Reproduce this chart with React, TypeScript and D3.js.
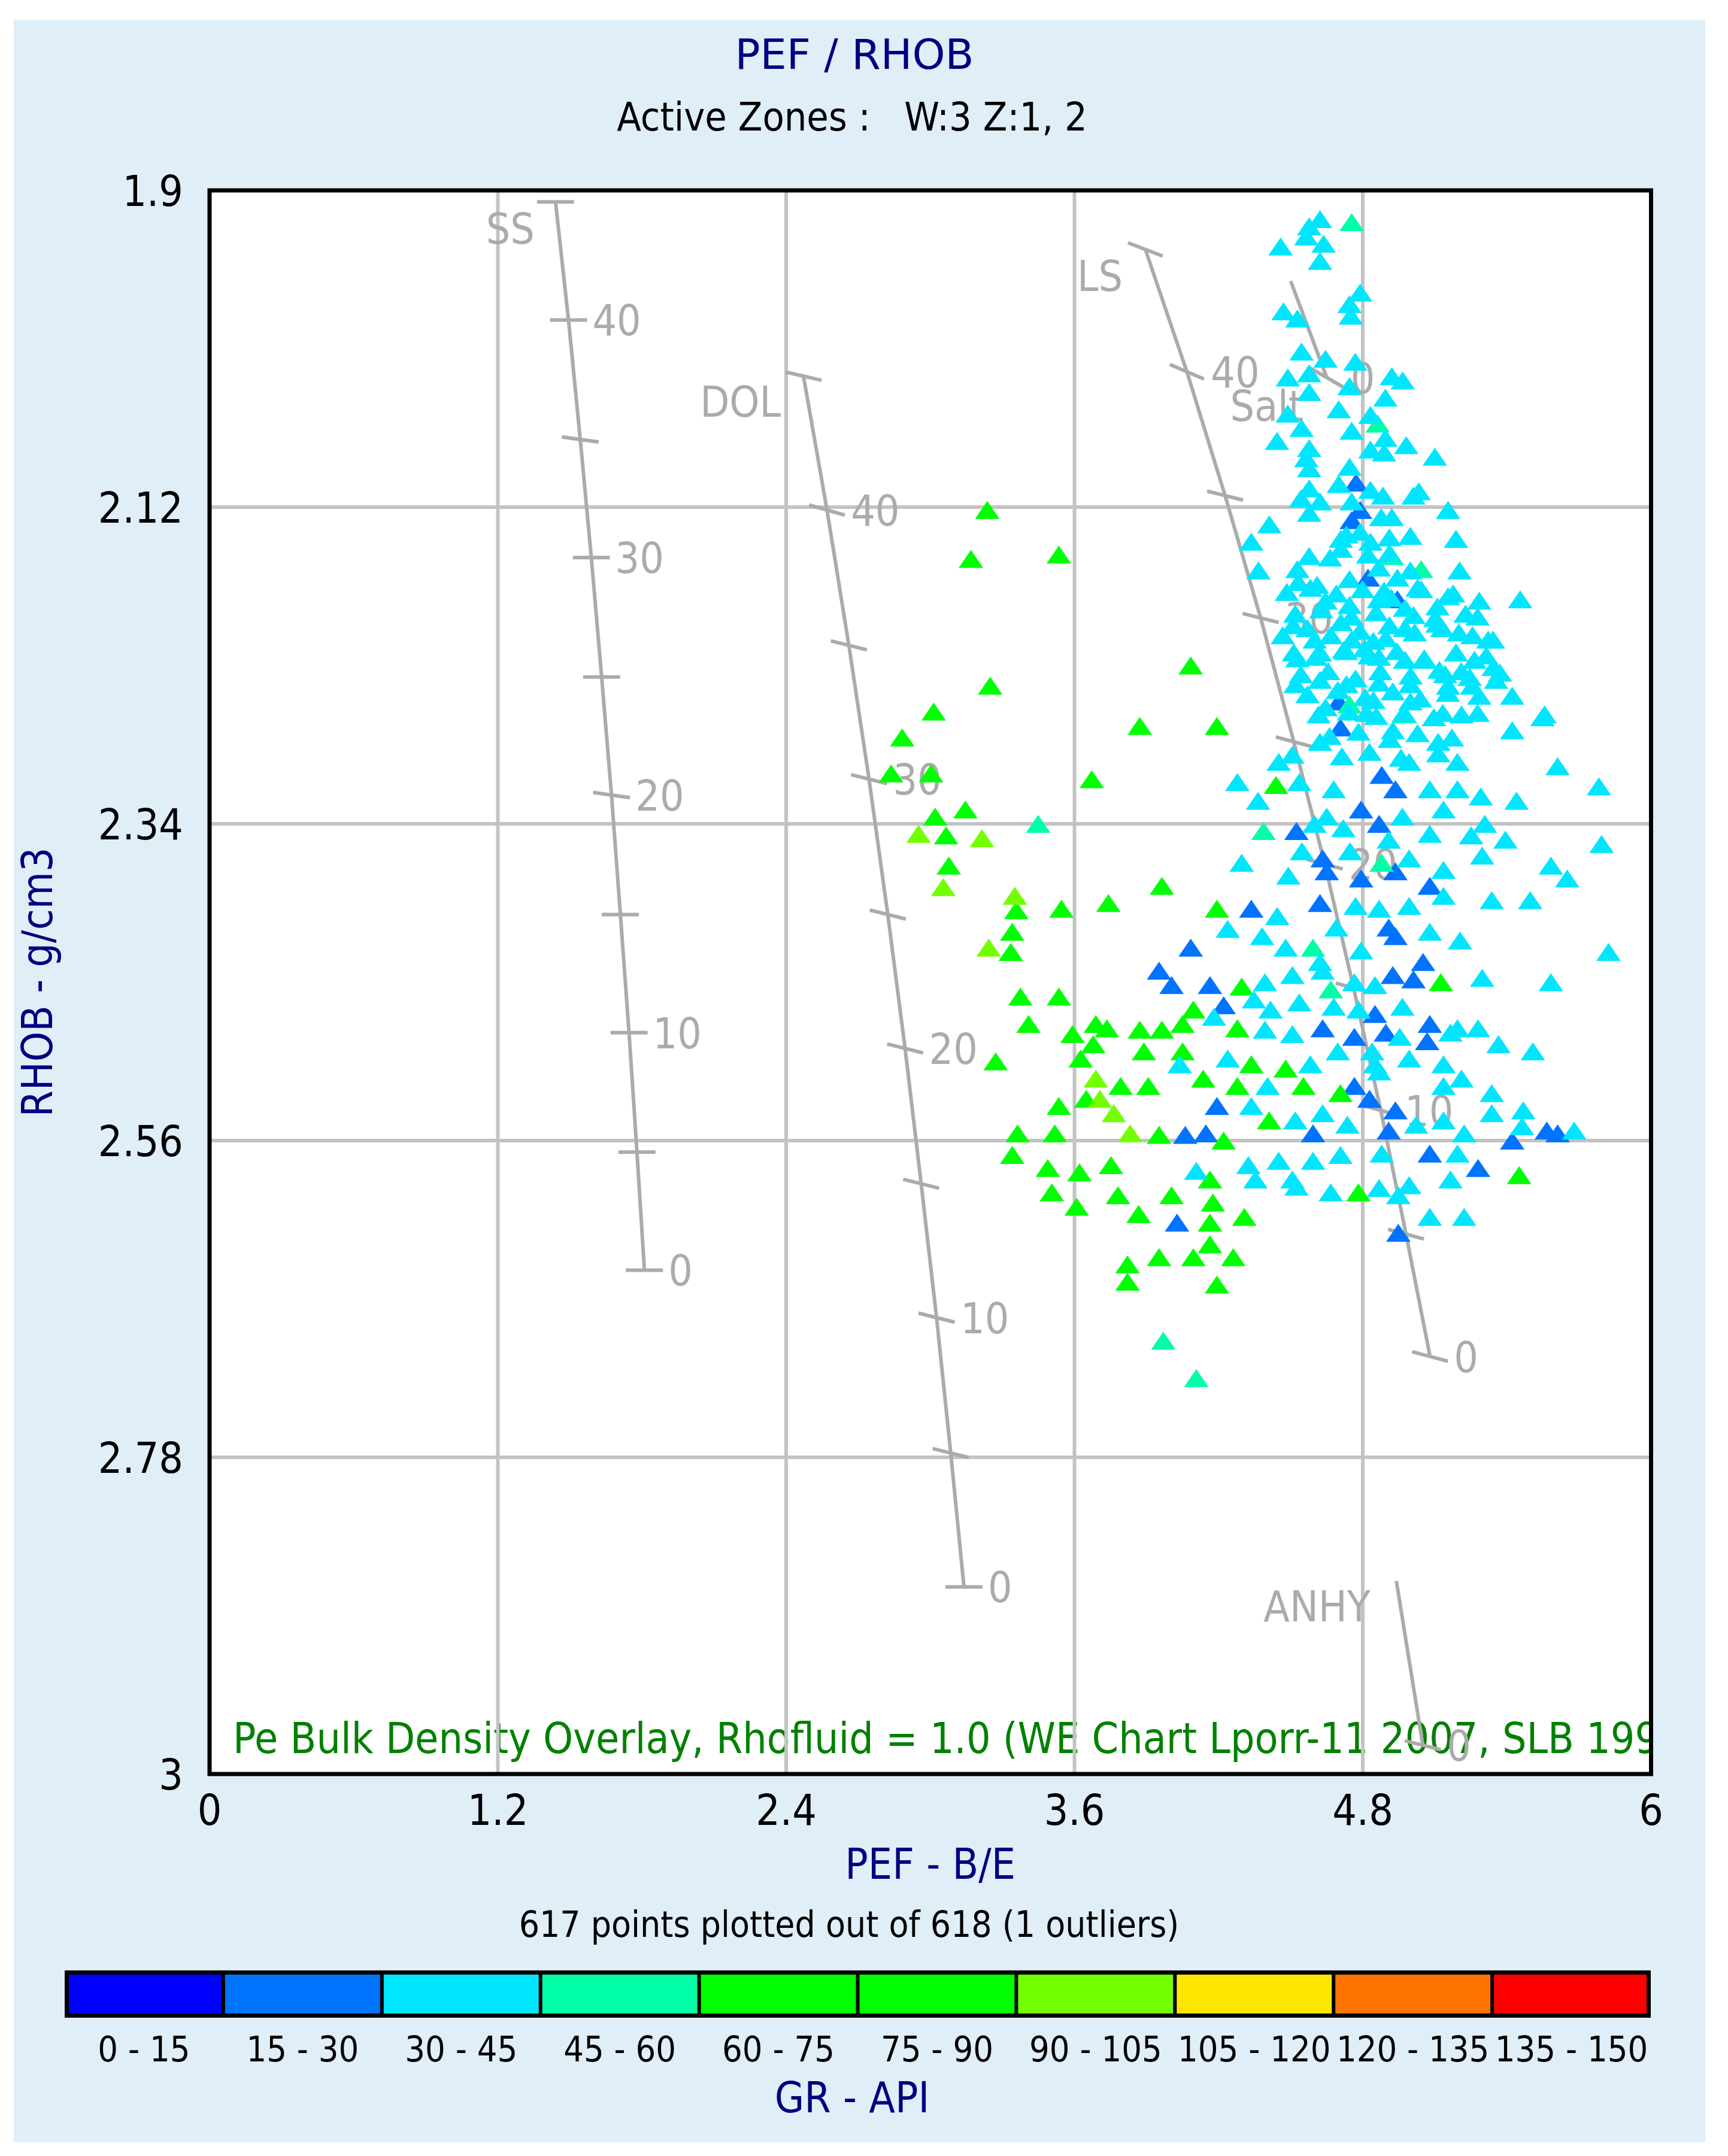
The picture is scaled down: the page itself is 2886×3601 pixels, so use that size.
import React from "react";
import * as d3 from "d3";

// ---------- DATA ----------
const X_TICKS = [0, 1.2, 2.4, 3.6, 4.8, 6];
const Y_TICKS = [1.9, 2.12, 2.34, 2.56, 2.78, 3];
const X_TICK_LABELS = ["0", "1.2", "2.4", "3.6", "4.8", "6"];
const Y_TICK_LABELS = ["1.9", "2.12", "2.34", "2.56", "2.78", "3"];

const GR_LABELS = ["0 - 15", "15 - 30", "30 - 45", "45 - 60", "60 - 75", "75 - 90", "90 - 105", "105 - 120", "120 - 135", "135 - 150"];
const GR_COLORS = ["#0000FF", "#0073FF", "#00E6FF", "#00FFA6", "#00FF00", "#00FF00", "#73FF00", "#FFE600", "#FF7300", "#FF0000"];

// points [PEF, RHOB] grouped by GR class
const PTS_GR_15_30: [number, number][] = [
  [4.772, 2.103], [4.789, 2.122], [4.754, 2.129], [4.822, 2.169], [4.944, 2.184], [4.700, 2.255],
  [4.707, 2.273], [4.879, 2.306], [4.936, 2.316], [4.793, 2.330], [4.524, 2.345], [4.868, 2.340], [4.633, 2.364],
  [4.650, 2.373], [4.793, 2.378], [4.936, 2.373], [5.079, 2.383], [4.622, 2.395], [4.336, 2.399], [4.908, 2.412],
  [4.936, 2.418], [4.084, 2.426], [5.051, 2.436], [4.925, 2.445],
  [3.952, 2.442], [4.004, 2.452], [4.164, 2.452], [5.011, 2.448], [4.221, 2.466], [4.851, 2.472], [5.079, 2.479],
  [4.633, 2.482], [4.765, 2.488], [4.896, 2.485], [5.068, 2.491],
  [4.765, 2.522], [4.828, 2.531], [4.936, 2.539], [4.061, 2.556], [4.147, 2.555], [4.193, 2.536], [4.593, 2.555],
  [4.908, 2.553], [5.422, 2.560], [5.566, 2.553], [5.611, 2.555], [5.079, 2.569], [5.280, 2.579], [4.027, 2.617],
  [4.948, 2.624],
];
const PTS_GR_30_45: [number, number][] = [
  [4.622, 1.920], [4.577, 1.925], [4.565, 1.932], [4.637, 1.937], [4.458, 1.939], [4.622, 1.949], [4.789, 1.971],
  [4.745, 1.979], [4.470, 1.984], [4.750, 1.987], [4.528, 1.989], [4.545, 2.012], [4.645, 2.017], [4.769, 2.019],
  [4.488, 2.030], [4.577, 2.027], [4.921, 2.029], [4.966, 2.032], [4.745, 2.036], [4.577, 2.040], [4.894, 2.044],
  [4.700, 2.052], [4.488, 2.055], [4.832, 2.056], [4.545, 2.065], [4.754, 2.067], [4.894, 2.072], [4.443, 2.074],
  [4.981, 2.077], [4.577, 2.079], [4.832, 2.080], [5.100, 2.085], [4.889, 2.082], [4.565, 2.086], [4.745, 2.092],
  [4.577, 2.093], [4.577, 2.107], [4.700, 2.104], [4.832, 2.108], [4.884, 2.112], [5.033, 2.109], [5.011, 2.112],
  [4.543, 2.114], [4.622, 2.116], [4.754, 2.116], [4.577, 2.124], [5.155, 2.122], [4.877, 2.127], [4.921, 2.127],
  [4.411, 2.132], [4.732, 2.139], [4.789, 2.137], [4.998, 2.140], [4.911, 2.141], [4.709, 2.142], [5.188, 2.142],
  [4.336, 2.144], [4.832, 2.144], [4.709, 2.149], [4.911, 2.152], [4.577, 2.154], [4.664, 2.155], [4.822, 2.153],
  [4.366, 2.164], [4.528, 2.163], [4.998, 2.164], [5.203, 2.164], [4.867, 2.162], [4.745, 2.170], [4.944, 2.169],
  [4.532, 2.172], [4.610, 2.174], [5.043, 2.177], [4.889, 2.178], [5.155, 2.182], [5.455, 2.184], [4.745, 2.188],
  [4.645, 2.185], [4.867, 2.184], [5.111, 2.189], [5.278, 2.196], [5.011, 2.195], [4.911, 2.202], [4.510, 2.202],
  [4.709, 2.200], [5.111, 2.201], [5.200, 2.207], [5.322, 2.212], [4.600, 2.212], [4.754, 2.212], [4.844, 2.213],
  [4.976, 2.204],
  [4.484, 2.179], [4.582, 2.176], [4.690, 2.180], [4.799, 2.177], [4.919, 2.183], [5.028, 2.176], [5.176, 2.180], [5.285, 2.185],
  [4.519, 2.194], [4.627, 2.191], [4.753, 2.196], [4.856, 2.193], [4.976, 2.190], [5.102, 2.197], [5.228, 2.194],
  [4.467, 2.209], [4.570, 2.204], [4.667, 2.209], [4.788, 2.206], [4.896, 2.211], [5.016, 2.207], [5.131, 2.204], [5.257, 2.209], [5.342, 2.212],
  [4.513, 2.221], [4.604, 2.224], [4.730, 2.220], [4.828, 2.223], [4.942, 2.220], [5.056, 2.225], [5.188, 2.221], [5.314, 2.223],
  [4.542, 2.236], [4.656, 2.234], [4.770, 2.239], [4.873, 2.234], [4.999, 2.237], [5.119, 2.233], [5.245, 2.238], [5.371, 2.235],
  [4.570, 2.250], [4.696, 2.247], [4.810, 2.252], [4.925, 2.248], [5.039, 2.253], [5.154, 2.249], [5.285, 2.251],
  [4.616, 2.264], [4.742, 2.262], [4.856, 2.265], [4.971, 2.263], [5.096, 2.266], [5.211, 2.264],
  [4.662, 2.279], [4.782, 2.276], [4.913, 2.281], [5.028, 2.277], [5.171, 2.280],
  [4.713, 2.293], [4.828, 2.290], [4.959, 2.294], [5.114, 2.291],
  [4.528, 2.225], [4.622, 2.221], [4.722, 2.219], [4.809, 2.218], [4.867, 2.224], [4.976, 2.226], [5.056, 2.226],
  [5.143, 2.236], [5.210, 2.234], [5.265, 2.226], [5.345, 2.231], [5.355, 2.240], [4.520, 2.243], [4.622, 2.240],
  [4.732, 2.243], [4.867, 2.242], [4.998, 2.243], [5.155, 2.244], [5.255, 2.244], [5.422, 2.251], [4.645, 2.259],
  [4.998, 2.255], [4.844, 2.254], [5.557, 2.264], [5.278, 2.263], [5.133, 2.263],
  [5.548, 2.266], [5.422, 2.275], [5.611, 2.300], [5.783, 2.314], [5.794, 2.354], [5.440, 2.324], [5.308, 2.340],
  [5.291, 2.321], [5.194, 2.297], [5.114, 2.283], [4.993, 2.297], [4.925, 2.275], [4.816, 2.263], [4.622, 2.283],
  [4.507, 2.292], [4.450, 2.297], [4.536, 2.311], [4.679, 2.316], [5.079, 2.316], [5.194, 2.316], [5.136, 2.330],
  [4.965, 2.335], [4.650, 2.335], [4.278, 2.311], [4.364, 2.324], [4.599, 2.340], [4.719, 2.343], [5.079, 2.347],
  [5.251, 2.348], [5.394, 2.351], [4.547, 2.359], [4.747, 2.359], [4.908, 2.351], [4.993, 2.364],
  [4.296, 2.367], [4.490, 2.376], [5.136, 2.372], [5.297, 2.362], [5.583, 2.369], [5.651, 2.378], [4.770, 2.397],
  [4.868, 2.399], [4.993, 2.397], [5.136, 2.390], [5.337, 2.393], [5.497, 2.393], [4.444, 2.404], [4.690, 2.412],
  [5.079, 2.415], [5.205, 2.421], [4.238, 2.413], [4.381, 2.418], [4.479, 2.426], [4.793, 2.428], [5.823, 2.429],
  [4.622, 2.436],
  [4.393, 2.450], [4.507, 2.445], [4.633, 2.442], [4.765, 2.450], [4.851, 2.452], [5.297, 2.447], [5.583, 2.450],
  [4.347, 2.462], [4.416, 2.469], [4.536, 2.464], [4.679, 2.467], [4.782, 2.469], [4.965, 2.467], [5.194, 2.482],
  [5.280, 2.482], [5.365, 2.493], [4.181, 2.474], [4.393, 2.483], [4.507, 2.486], [4.954, 2.488], [5.165, 2.485],
  [5.508, 2.498], [4.238, 2.503], [4.582, 2.507], [4.696, 2.498], [4.839, 2.498], [4.851, 2.507], [4.993, 2.503],
  [5.136, 2.507], [4.868, 2.512],
  [5.136, 2.522], [5.211, 2.517], [5.337, 2.527], [4.404, 2.522], [4.038, 2.507], [4.336, 2.536], [4.519, 2.546],
  [4.633, 2.541], [4.736, 2.549], [5.022, 2.549], [5.136, 2.546], [5.222, 2.555], [5.337, 2.541], [5.463, 2.550],
  [5.468, 2.539], [5.680, 2.553], [4.879, 2.569], [4.707, 2.570], [4.593, 2.574], [4.450, 2.574], [4.324, 2.577],
  [4.107, 2.581], [5.194, 2.569], [5.165, 2.587], [4.993, 2.591], [4.868, 2.593], [4.667, 2.596], [4.507, 2.587],
  [4.353, 2.587], [4.524, 2.592], [5.079, 2.613], [5.222, 2.613], [4.948, 2.598],
];
const PTS_GR_45_60: [number, number][] = [
  [4.754, 1.922], [4.862, 2.062], [4.921, 2.154], [5.043, 2.163], [4.745, 2.257], [4.976, 2.264],
  [3.449, 2.340], [4.387, 2.345], [4.879, 2.367], [4.593, 2.426], [4.667, 2.455], [3.970, 2.699], [4.107, 2.725],
];
const PTS_GR_60_75: [number, number][] = [
  [3.237, 2.122], [3.169, 2.156], [3.535, 2.153], [4.084, 2.230], [3.249, 2.244], [3.014, 2.262],
  [3.872, 2.272], [4.193, 2.272], [2.883, 2.280], [2.837, 2.305], [3.003, 2.305], [3.146, 2.330], [3.020, 2.335],
  [3.066, 2.348], [3.672, 2.309], [3.077, 2.369], [3.358, 2.400], [3.546, 2.399], [3.341, 2.415], [3.335, 2.429],
  [3.741, 2.395], [3.964, 2.383], [4.439, 2.313], [4.193, 2.399],
  [4.296, 2.453], [5.125, 2.450], [4.095, 2.469], [3.964, 2.483], [4.050, 2.479], [4.278, 2.482], [3.735, 2.482],
  [3.872, 2.483], [4.050, 2.498], [3.889, 2.498], [4.336, 2.507], [4.479, 2.510],
  [4.707, 2.527], [4.553, 2.522], [4.278, 2.522], [4.136, 2.517], [3.907, 2.522], [3.792, 2.522], [3.626, 2.503],
  [3.592, 2.486], [3.678, 2.493], [3.409, 2.479], [3.535, 2.460], [3.375, 2.460], [3.272, 2.505], [3.689, 2.479],
  [3.535, 2.536], [3.649, 2.531], [3.518, 2.555], [3.363, 2.555], [3.341, 2.570], [3.489, 2.579], [3.621, 2.582],
  [3.752, 2.577], [3.952, 2.556], [4.221, 2.560], [4.410, 2.546], [5.451, 2.584], [4.164, 2.587], [4.004, 2.598],
  [3.781, 2.598], [3.609, 2.606], [3.506, 2.596], [3.867, 2.611], [4.176, 2.603], [4.307, 2.613], [4.782, 2.596],
  [4.164, 2.617], [4.164, 2.632], [4.095, 2.641], [4.261, 2.641], [3.952, 2.641], [3.821, 2.646], [3.821, 2.658],
  [4.193, 2.660],
];
const PTS_GR_90_105: [number, number][] = [
  [2.951, 2.347], [3.215, 2.350], [3.054, 2.384], [3.352, 2.390], [3.243, 2.426],
  [3.689, 2.517], [3.706, 2.531], [3.764, 2.541], [3.832, 2.555],
];
const POINT_GROUPS: { cls: number; pts: [number, number][] }[] = [
  { cls: 1, pts: PTS_GR_15_30 },
  { cls: 3, pts: PTS_GR_45_60 },
  { cls: 4, pts: PTS_GR_60_75 },
  { cls: 6, pts: PTS_GR_90_105 },
  { cls: 2, pts: PTS_GR_30_45 },
];

// Pe / RHOB overlay lines: [porosity %, PEF, RHOB]
const SS_LINE = [[0, 1.81, 2.65], [5, 1.779, 2.568], [10, 1.746, 2.485], [15, 1.71, 2.403], [20, 1.673, 2.32], [25, 1.632, 2.238], [30, 1.589, 2.155], [35, 1.543, 2.073], [40, 1.494, 1.99], [45, 1.44, 1.908]];
const DOL_LINE = [[0, 3.14, 2.87], [5, 3.085, 2.777], [10, 3.026, 2.683], [15, 2.962, 2.59], [20, 2.895, 2.496], [25, 2.823, 2.403], [30, 2.745, 2.309], [35, 2.661, 2.216], [40, 2.57, 2.122], [45, 2.472, 2.029]];
const LS_LINE = [[0, 5.08, 2.71], [5, 4.98, 2.625], [10, 4.875, 2.539], [15, 4.762, 2.454], [20, 4.642, 2.368], [25, 4.513, 2.283], [30, 4.375, 2.197], [35, 4.227, 2.112], [40, 4.068, 2.026], [45, 3.895, 1.941]];
const SALT_LINE = [[0, 4.65, 2.03], [6.5, 4.5, 1.963]];
const ANHY_LINE = [[0, 5.05, 2.98], [5.8, 4.94, 2.866]];
const LABELED_POROSITY = [0, 10, 20, 30, 40];
const MINERALS = ["SS", "DOL", "LS", "Salt", "ANHY"];
const MINERAL_LABEL_AT = [[1.353, 1.937], [2.378, 2.057], [3.801, 1.97], [4.553, 2.06], [4.832, 2.894]];

// styles (not data)
const SS_TICK_ANGLE = [0, 0, 0, 0, 8, 0, 0, 8, 0, 0];
const DOL_TICK_ANGLE = [0, 14, 14, 14, 14, 14, 14, 14, 16, 13];
const LS_TICK_ANGLE = [15, 15, 15, 15, 15, 15, 14, 14, 23, 21];
const SALT_TICK_ANGLE = [30];
const ANHY_TICK_ANGLE = [14];

const TITLE = "PEF / RHOB";
const SUBTITLE = "Active Zones :   W:3 Z:1, 2";
const X_TITLE = "PEF - B/E";
const Y_TITLE = "RHOB - g/cm3";
const NOTE = "617 points plotted out of 618 (1 outliers)";
const LEGEND_TITLE = "GR - API";
const OVERLAY_NOTE = "Pe Bulk Density Overlay, Rhofluid = 1.0 (WE Chart Lporr-11 2007, SLB 1999)";

// ---------- LAYOUT ----------
const W = 2886, H = 3601;
const PL = 350, PR = 2757.5, PT = 318, PB = 2963;
const FONT = "'DejaVu Sans Condensed', 'DejaVu Sans', sans-serif";
const FONT_WIDE = "'DejaVu Sans', sans-serif";
const NAVY = "#000080";
const GRAY = "#ABABAB";
const GRID = "#C3C3C3";

const TRI = {
  draw(ctx: any) {
    ctx.moveTo(0, -15);
    ctx.lineTo(20.5, 15);
    ctx.lineTo(-20.5, 15);
    ctx.closePath();
  },
};

export default function App() {
  const x = d3.scaleLinear().domain([0, 6]).range([PL, PR]);
  const y = d3.scaleLinear().domain([1.9, 3]).range([PT, PB]);
  const triPath = d3.symbol().type(TRI as any).size(1)() as string;
  const lineGen = d3.line<number[]>().x((d) => x(d[1])).y((d) => y(d[2]));

  const overlays = [
    { name: 0, data: SS_LINE, ang: SS_TICK_ANGLE, ticks: SS_LINE },
    { name: 1, data: DOL_LINE, ang: DOL_TICK_ANGLE, ticks: DOL_LINE },
    { name: 2, data: LS_LINE, ang: LS_TICK_ANGLE, ticks: LS_LINE },
    { name: 3, data: SALT_LINE, ang: SALT_TICK_ANGLE, ticks: [SALT_LINE[0]] },
    { name: 4, data: ANHY_LINE, ang: ANHY_TICK_ANGLE, ticks: [ANHY_LINE[0]] },
  ];
  const TL = 31;

  const legX0 = 108, legX1 = 2757, legY0 = 3291, legY1 = 3370;
  const legScale = d3.scaleBand<number>().domain(d3.range(GR_LABELS.length)).range([legX0, legX1]);

  return (
    <svg width={W} height={H} style={{ position: "absolute", left: 0, top: 0 }} fontFamily={FONT} fontStretch="condensed">
      <rect x={0} y={0} width={W} height={H} fill="#ffffff" />
      <rect x={23} y={33} width={2825} height={3545} fill="#E0EEF8" />
      <defs>
        <clipPath id="plotclip">
          <rect x={PL} y={PT} width={PR - PL} height={PB - PT} />
        </clipPath>
      </defs>
      <text x={1427} y={115} textAnchor="middle" fontSize={70} fontFamily={FONT_WIDE} fontStretch="normal" fill={NAVY}>{TITLE}</text>
      <text x={1423} y={218} textAnchor="middle" fontSize={66} fill="#000" style={{ whiteSpace: "pre" }}>{SUBTITLE}</text>

      <rect x={PL} y={PT} width={PR - PL} height={PB - PT} fill="#ffffff" />
      <g clipPath="url(#plotclip)">
        <text x={389} y={2928} fontSize={71} fill="#008000">{OVERLAY_NOTE}</text>
        {X_TICKS.slice(1, -1).map((t) => (
          <line key={"gx" + t} x1={x(t)} x2={x(t)} y1={PT} y2={PB} stroke={GRID} strokeWidth={6} />
        ))}
        {Y_TICKS.slice(1, -1).map((t) => (
          <line key={"gy" + t} x1={PL} x2={PR} y1={y(t)} y2={y(t)} stroke={GRID} strokeWidth={6} />
        ))}
        {overlays.map((o) => (
          <g key={"ov" + o.name}>
            <path d={lineGen(o.data as number[][]) as string} fill="none" stroke={GRAY} strokeWidth={6} />
            {o.ticks.map((t, i) => {
              const a = (o.ang[i] * Math.PI) / 180;
              const cx = x(t[1]), cy = y(t[2]);
              const dx = TL * Math.cos(a), dy = TL * Math.sin(a);
              return (
                <g key={i}>
                  <line x1={cx - dx} y1={cy - dy} x2={cx + dx} y2={cy + dy} stroke={GRAY} strokeWidth={6} />
                  {LABELED_POROSITY.includes(t[0]) ? (
                    <text x={cx + 40} y={cy + 26} fontSize={71} fill={GRAY}>{String(t[0])}</text>
                  ) : null}
                </g>
              );
            })}
            <text x={x(MINERAL_LABEL_AT[o.name][0])} y={y(MINERAL_LABEL_AT[o.name][1])} textAnchor="end" fontSize={71} fill={GRAY}>
              {MINERALS[o.name]}
            </text>
          </g>
        ))}
        {POINT_GROUPS.map((g) => (
          <g key={"pg" + g.cls} fill={GR_COLORS[g.cls]}>
            {g.pts.map((p, i) => (
              <path key={i} d={triPath} transform={`translate(${x(p[0])},${y(p[1])})`} />
            ))}
          </g>
        ))}
      </g>
      <rect x={PL} y={PT} width={PR - PL} height={PB - PT} fill="none" stroke="#000" strokeWidth={7} />

      {X_TICKS.map((t, i) => (
        <text key={"xl" + t} x={x(t)} y={3048} textAnchor="middle" fontSize={71} fill="#000">{X_TICK_LABELS[i]}</text>
      ))}
      {Y_TICKS.map((t, i) => (
        <text key={"yl" + t} x={306} y={y(t) + 26} textAnchor="end" fontSize={71} fill="#000">{Y_TICK_LABELS[i]}</text>
      ))}
      <text x={(PL + PR) / 2} y={3138} textAnchor="middle" fontSize={71} fill={NAVY}>{X_TITLE}</text>
      <text transform={`translate(87,${(PT + PB) / 2}) rotate(-90)`} textAnchor="middle" fontSize={71} fill={NAVY}>{Y_TITLE}</text>
      <text x={1418} y={3235} textAnchor="middle" fontSize={60} fill="#000">{NOTE}</text>

      <rect x={legX0} y={legY0} width={legX1 - legX0} height={legY1 - legY0} fill="#000" />
      {GR_LABELS.map((lab, i) => (
        <g key={"leg" + i}>
          <rect x={(legScale(i) as number) + (i === 0 ? 7 : 3)} y={legY0 + 7} width={legScale.bandwidth() - (i === 0 ? 10 : 6) - (i === GR_LABELS.length - 1 ? 4 : 0)} height={legY1 - legY0 - 14} fill={GR_COLORS[i]} />
          <text x={(legScale(i) as number) + legScale.bandwidth() / 2} y={3443} textAnchor="middle" fontSize={59} fill="#000">{lab}</text>
        </g>
      ))}
      <text x={1423} y={3528} textAnchor="middle" fontSize={71} fill={NAVY}>{LEGEND_TITLE}</text>
    </svg>
  );
}
